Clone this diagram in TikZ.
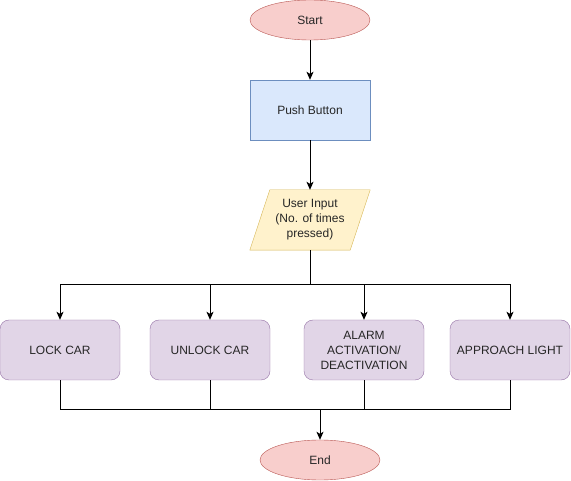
\documentclass[tikz,border=0pt]{standalone}
\usepackage{fontspec}
\setmainfont{Liberation Sans}
\usetikzlibrary{arrows.meta, positioning, calc, backgrounds, shapes.geometric}

\definecolor{termfill}{HTML}{F8CECC}
\definecolor{termline}{HTML}{B85450}
\definecolor{procfill}{HTML}{DAE8FC}
\definecolor{procline}{HTML}{6C8EBF}
\definecolor{iofill}{HTML}{FFF2CC}
\definecolor{ioline}{HTML}{D6B656}
\definecolor{actfill}{HTML}{E1D5E7}
\definecolor{actline}{HTML}{9673A6}

\tikzset{
    terminal/.style={ellipse, draw=termline, fill=termfill, minimum width=120pt, minimum height=40pt, inner sep=0pt},
    process/.style={rectangle, draw=procline, fill=procfill, minimum width=120pt, minimum height=60pt},
    action/.style={rectangle, draw=actline, fill=actfill, rounded corners=9pt, minimum width=120pt, minimum height=60pt, align=center},
    flow/.style={line width=1pt, -{Stealth[length=8pt, width=7pt, inset=2pt]}},
    link/.style={line width=1pt}
}

\begin{document}
\begin{tikzpicture}[x=1pt, y=-1pt, font=\fontsize{12}{15}\selectfont, text=black!85]
        \useasboundingbox (0, 0) rectangle (571, 481);
        % nodes of the flow chart
        \node[terminal] (start) at (310, 20) {Start};
        \node[process] (push_button) at (310, 110) {Push Button};
        \node[minimum width=120pt, minimum height=60pt, align=center, inner sep=0pt] (user_input) at (310, 220) {User Input\\(No. of times\\pressed)};
        \begin{scope}[on background layer]
            \draw[draw=ioline, fill=iofill] ([xshift=20pt]user_input.north west) -- (user_input.north east) -- ([xshift=-20pt]user_input.south east) -- (user_input.south west) -- cycle;
        \end{scope}

        \node[action] (lock_car) at (60, 350) {LOCK CAR};
        \node[action] (unlock_car) at (210, 350) {UNLOCK CAR};
        \node[action] (alarm) at (364, 350) {ALARM\\ACTIVATION/\\DEACTIVATION};
        \node[action] (approach_light) at (510, 350) {APPROACH LIGHT};

        \node[terminal] (end_node) at (320, 460) {End};

        \coordinate (split) at (310, 285);
        \coordinate (merge) at (320, 410);

        \draw[flow] (start) -- (push_button);
        \draw[flow] (push_button) -- (user_input);
        \draw[link] (user_input) -- (split);
        \draw[flow] (split) -| (lock_car);
        \draw[flow] (split) -| (unlock_car);
        \draw[flow] (split) -| (alarm);
        \draw[flow] (split) -| (approach_light);

        \draw[link] (lock_car) |- (merge);
        \draw[link] (unlock_car) |- (merge);
        \draw[link] (alarm) |- (merge);
        \draw[link] (approach_light) |- (merge);
        \draw[flow] (merge) -- (end_node);
    \end{tikzpicture}
\end{document}
